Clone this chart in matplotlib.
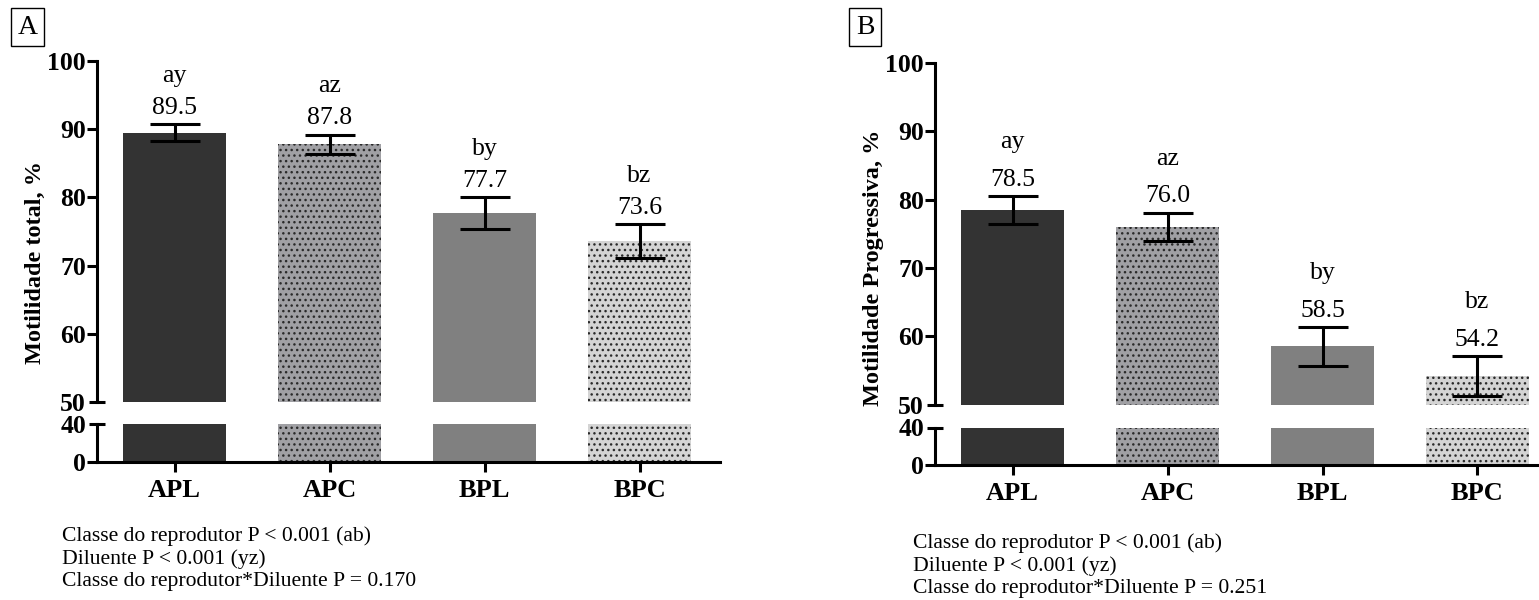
import matplotlib
matplotlib.use('Agg')
import matplotlib.pyplot as plt

plt.rcParams['font.family'] = ['Liberation Serif', 'DejaVu Serif']
plt.rcParams['hatch.linewidth'] = 1.0

categories = ['APL', 'APC', 'BPL', 'BPC']

total_mean = [89.5, 87.8, 77.7, 73.6]
total_err = [1.2, 1.4, 2.3, 2.5]
total_letters = ['ay', 'az', 'by', 'bz']

prog_mean = [78.5, 76.0, 58.5, 54.2]
prog_err = [2.0, 2.1, 2.8, 2.9]
prog_letters = ['ay', 'az', 'by', 'bz']

notes_a = ['Classe do reprodutor P < 0.001 (ab)',
           'Diluente P < 0.001 (yz)',
           'Classe do reprodutor*Diluente P = 0.170']
notes_b = ['Classe do reprodutor P < 0.001 (ab)',
           'Diluente P < 0.001 (yz)',
           'Classe do reprodutor*Diluente P = 0.251']

fills = ['#333333', '#a0a0a4', '#808080', '#d4d4d4']
hatches = ['', '...', '', '...']

W, H = 1539, 600
fig = plt.figure(figsize=(W / 100, H / 100), dpi=100)

LW = 2.2


def px(x0, y_top, x1, y_bot):
    return [x0 / W, 1 - y_bot / H, (x1 - x0) / W, (y_bot - y_top) / H]


def draw_panel(left, top50, y50, y40, y0, means, errs, letters, letter_gap):
    xr = left + 4.02 * 155
    up = fig.add_axes(px(left, top50, xr, y50))
    lo = fig.add_axes(px(left, y40, xr, y0))
    x = range(len(categories))
    for ax in (up, lo):
        for i in x:
            ax.bar(i, means[i], width=0.665, color=fills[i], hatch=hatches[i],
                   edgecolor='#2a2a2a', linewidth=0, zorder=2)
        ax.set_xlim(-0.5, 3.52)
        for s in ['top', 'right']:
            ax.spines[s].set_visible(False)
        ax.spines['left'].set_linewidth(LW)
        ax.spines['bottom'].set_linewidth(LW)
    up.errorbar(list(x), means, yerr=errs, fmt='none', ecolor='black',
                elinewidth=LW, capsize=18, capthick=LW, zorder=3)
    up.set_ylim(50, 100)
    lo.set_ylim(0, 40)
    up.spines['bottom'].set_visible(False)
    up.set_xticks([])
    up.set_yticks([60, 70, 80, 90, 100])
    up.set_yticks([50], minor=True)
    up.set_yticklabels(['50'], minor=True)
    lo.set_yticks([0])
    lo.set_yticks([40], minor=True)
    lo.set_yticklabels(['40'], minor=True)
    for ax in (up, lo):
        ax.tick_params(axis='y', which='major', direction='out', length=7,
                       width=LW, pad=1, labelsize=18.5)
        ax.tick_params(axis='y', which='minor', direction='inout', length=11,
                       width=LW, pad=2.5, labelsize=18.5)
        for lab in ax.get_yticklabels() + ax.get_yticklabels(minor=True):
            lab.set_fontweight('bold')
    lo.set_xticks(list(x))
    lo.set_xticklabels(categories, fontsize=19, fontweight='bold')
    lo.tick_params(axis='x', direction='out', length=7, width=LW, pad=5)

    for i in x:
        top = means[i] + errs[i]
        up.annotate(f'{means[i]:.1f}', xy=(i, top), xytext=(0, 7.5),
                    textcoords='offset points', ha='center', va='baseline',
                    fontsize=18.5, annotation_clip=False)
        up.annotate(letters[i], xy=(i, top), xytext=(0, 7.5 + letter_gap),
                    textcoords='offset points', ha='center', va='baseline',
                    fontsize=18.5, annotation_clip=False)
    return up, lo


draw_panel(97, 61, 402, 424, 462, total_mean, total_err, total_letters, 23)
draw_panel(935, 63, 404.5, 427.5, 465, prog_mean, prog_err, prog_letters, 27)

fig.text(35 / W, 1 - 262 / H, 'Motilidade total, %', rotation=90,
         ha='center', va='center', fontsize=17.5, fontweight='bold')
fig.text(873 / W, 1 - 268 / H, 'Motilidade Progressiva, %', rotation=90,
         ha='center', va='center', fontsize=17.5, fontweight='bold')

box = dict(boxstyle='square,pad=0.25', facecolor='white', edgecolor='black', lw=1)
fig.text(27.5 / W, 1 - 27 / H, 'A', ha='center', va='center', fontsize=20, bbox=box)
fig.text(865 / W, 1 - 27 / H, 'B', ha='center', va='center', fontsize=20, bbox=box)

fig.text(62 / W, 1 - 526 / H, '\n'.join(notes_a), ha='left', va='top',
         fontsize=15.6, linespacing=1.24)
fig.text(913 / W, 1 - 533 / H, '\n'.join(notes_b), ha='left', va='top',
         fontsize=15.6, linespacing=1.24)

fig.savefig('out.png', dpi=100)
